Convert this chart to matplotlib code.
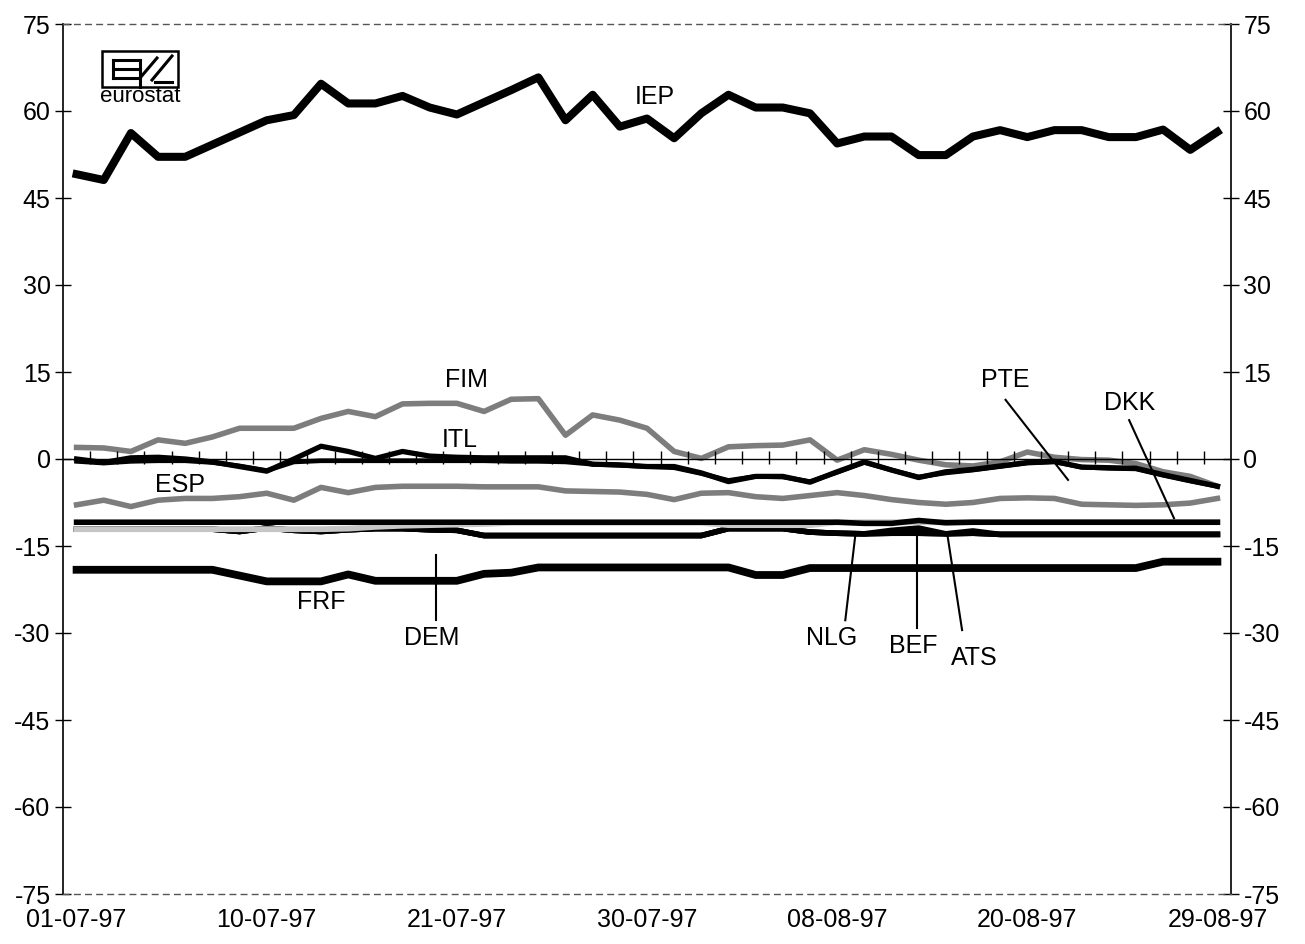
import matplotlib
matplotlib.use("Agg")
import matplotlib.pyplot as plt
from matplotlib.lines import Line2D
from matplotlib.patches import Rectangle

plt.rcParams['font.family'] = ['Liberation Sans', 'DejaVu Sans']
plt.rcParams['axes.unicode_minus'] = False

# business days 01-07-97 .. 29-08-97 (15-08 missing)
days = ["01-07-97", "02-07-97", "03-07-97", "04-07-97", "07-07-97", "08-07-97",
        "09-07-97", "10-07-97", "11-07-97", "14-07-97", "15-07-97", "16-07-97",
        "17-07-97", "18-07-97", "21-07-97", "22-07-97", "23-07-97", "24-07-97",
        "25-07-97", "28-07-97", "29-07-97", "30-07-97", "31-07-97", "01-08-97",
        "04-08-97", "05-08-97", "06-08-97", "07-08-97", "08-08-97", "11-08-97",
        "12-08-97", "13-08-97", "14-08-97", "18-08-97", "19-08-97", "20-08-97",
        "21-08-97", "22-08-97", "25-08-97", "26-08-97", "27-08-97", "28-08-97",
        "29-08-97"]

iep = [49.1, 48.1, 56.2, 52.1, 52.1, 54.2, 56.3, 58.4, 59.3, 64.7, 61.3, 61.3,
       62.6, 60.6, 59.4, 61.5, 63.6, 65.8, 58.4, 62.8, 57.3, 58.7, 55.3, 59.6,
       62.8, 60.6, 60.6, 59.6, 54.4, 55.6, 55.6, 52.4, 52.4, 55.6, 56.7, 55.5,
       56.7, 56.7, 55.5, 55.5, 56.8, 53.3, 56.4]
fim = [2.0, 1.9, 1.3, 3.3, 2.7, 3.8, 5.3, 5.3, 5.3, 7.0, 8.2, 7.3, 9.5,
       9.6, 9.6, 8.2, 10.3, 10.4, 4.1, 7.6, 6.7, 5.3, 1.3, 0.1, 2.1, 2.3, 2.4, 3.3,
       -0.2, 1.6, 0.8, -0.2, -1.0, -1.2, -0.5, 1.2, 0.3, -0.1, -0.2, -0.8, -2.2,
       -3.0, -4.7]
itl = [0, -0.6, 0.2, 0.3, 0, -0.5, -1.3, -2.1, 0,
       2.2, 1.3, 0.1, 1.3, 0.5, 0.3, 0.2, 0.2, 0.2, 0.2,
       -0.9, -1.0, -1.3, -1.3, -2.4, -3.9, -3.0, -3.0, -4.0,
       -2.2, -0.5, -1.9, -3.2, -2.2, -1.8, -1.2, -0.6, -0.4, -1.4, -1.5, -1.6,
       -2.7, -3.7, -4.7]
pte = [-0.4, -0.7, -0.4, -0.3, -0.3, -0.6, -1.2, -2.0, -0.5,
       -0.3, -0.3, -0.3, -0.3, -0.3, -0.3, -0.3, -0.4, -0.4, -0.5,
       -0.9, -1.1, -1.3, -1.5, -2.5, -3.7, -3.0, -3.1, -3.9,
       -2.3, -0.6, -1.9, -3.1, -2.4, -1.9, -1.3, -0.7, -0.5, -1.4, -1.6, -1.7,
       -2.8, -3.8, -4.7]
esp = [-7.9, -7.1, -8.2, -7.1, -6.8, -6.8, -6.5, -5.9, -7.1, -4.9, -5.8, -4.9,
       -4.7, -4.7, -4.7, -4.8, -4.8, -4.8, -5.5, -5.6, -5.7, -6.1, -7.0, -5.9,
       -5.8, -6.5, -6.8, -6.3, -5.8, -6.3, -7.0, -7.5, -7.8, -7.5, -6.8, -6.7,
       -6.8, -7.8, -7.9, -8.0, -7.9, -7.6, -6.8]
dkk = [-10.9] * 29 + [-11.1, -11.1, -10.6, -11.0] + [-10.9] * 10
dem = [-12.1] * 10 + [-12.0, -11.7, -11.5, -11.4, -11.3, -11.2] + [-11.0] * 8 \
      + [-11.4] * 4 + [-10.9] * 15
nlg = [-12.1] * 6 + [-12.5, -11.9, -12.3, -12.5, -12.2, -12.0, -12.0, -12.2,
       -12.3] + [-13.2] * 9 + [-12.0, -12.0, -12.0, -12.6, -12.8, -12.9, -12.8,
       -12.8, -12.9, -12.8] + [-13.0] * 9
bef = nlg[:30] + [-12.3, -11.9, -12.9] + nlg[33:]
ats = nlg[:32] + [-12.9, -12.4] + nlg[34:]
frf = [-19.1] * 6 + [-20.1, -21.1, -21.1, -21.1, -19.9, -21.0, -21.0, -21.0,
       -21.0, -19.8, -19.6] + [-18.7] * 8 + [-20.0, -20.0] + [-18.8] * 13 \
      + [-17.7] * 3

x = list(range(len(days)))

fig = plt.figure(figsize=(13.05, 9.44), dpi=100)
ax = fig.add_axes([63 / 1305, 1 - 894 / 944, 1168 / 1305, 870 / 944])

# lower hard-core group first, light gray DEM over it, DKK on top
ax.plot(x, nlg, color="black", lw=4.0, zorder=2)
ax.plot(x, bef, color="black", lw=4.0, zorder=2)
ax.plot(x, ats, color="black", lw=4.0, zorder=2)
ax.plot(x, dem, color="#c6c6c6", lw=4.2, zorder=3)
ax.plot(x, dkk, color="black", lw=4.0, zorder=4)
ax.plot(x, frf, color="black", lw=5.6, zorder=4)
ax.plot(x, esp, color="#7d7d7d", lw=4.0, zorder=4)
ax.plot(x, fim, color="#7d7d7d", lw=4.0, zorder=4)
ax.plot(x, pte, color="black", lw=3.4, zorder=5)
ax.plot(x, itl, color="black", lw=3.8, zorder=5)
ax.plot(x, iep, color="black", lw=5.8, zorder=5)

# zero axis with category tick marks
ax.axhline(0, color="black", lw=1.0, zorder=6)
ax.vlines([k + 0.5 for k in x[:-1]], -0.9, 1.3, color="black", lw=1.0, zorder=6)

ax.set_xlim(-0.5, len(days) - 0.5)
ax.set_ylim(-75, 75)
ax.set_yticks(range(-75, 76, 15))
ax.set_xticks(x[::7])
ax.set_xticklabels(days[::7])
ax.tick_params(axis="x", length=0, pad=10, labelsize=18)
ax.tick_params(axis="y", direction="inout", length=12, width=1, labelsize=18,
               left=True, right=True, labelleft=True, labelright=True, pad=3)

for s in ["top", "bottom"]:
    ax.spines[s].set_linestyle((0, (4, 4)))
    ax.spines[s].set_color("#555555")
    ax.spines[s].set_linewidth(1.0)
for s in ["left", "right"]:
    ax.spines[s].set_linewidth(1.2)

# series labels
labels = {"IEP": (21.3, 62.4), "FIM": (14.35, 13.6), "ITL": (14.1, 3.3),
          "ESP": (3.8, -4.5), "PTE": (34.2, 13.6), "DKK": (38.75, 9.7),
          "FRF": (9.0, -24.7), "DEM": (13.07, -30.9), "NLG": (27.8, -30.9),
          "BEF": (30.8, -32.2), "ATS": (33.05, -34.3)}
for name, (lx, ly) in labels.items():
    ax.text(lx, ly, name, fontsize=18, ha="center", va="center", zorder=7)

# leader lines
leaders = [((34.2, 36.5), (10.2, -3.6)),
           ((38.75, 40.4), (6.7, -10.2)),
           ((13.25, 13.25), (-27.8, -16.6)),
           ((28.3, 28.67), (-27.8, -13.1)),
           ((30.95, 30.95), (-29.1, -11.9)),
           ((32.6, 32.06), (-29.5, -13.1))]
for lx, ly in leaders:
    ax.plot(lx, ly, color="black", lw=1.5, zorder=7)


# eurostat logo (figure pixel coords)
def fx(px):
    return px / 1305


def fy(py):
    return 1 - py / 944


fig.patches.append(Rectangle((fx(102), fy(87)), 76 / 1305, 36 / 944, fill=False,
                             lw=1.8, ec="black", transform=fig.transFigure))
logo_lines = [((113, 140), (60, 60)), ((113, 113), (60, 78)), ((113, 140), (69, 69)),
              ((113, 140), (78, 78)), ((140, 140), (60, 87)), ((140, 157), (78, 58)),
              ((152, 172), (80, 56)), ((155, 172), (82, 82))]
for (x0, x1), (y0, y1) in logo_lines:
    fig.lines.append(Line2D([fx(x0), fx(x1)], [fy(y0), fy(y1)], lw=2.2,
                            color="black", transform=fig.transFigure))
fig.text(fx(140), fy(97), "eurostat", fontsize=16, ha="center", va="center")

fig.savefig("out.png", dpi=100)
